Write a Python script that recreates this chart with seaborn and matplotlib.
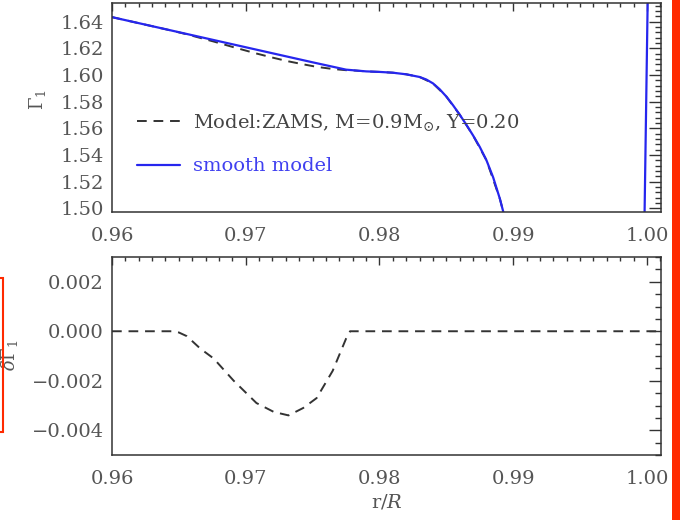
import numpy as np
import pandas as pd
import matplotlib
matplotlib.use("Agg")
import matplotlib.pyplot as plt
import seaborn as sns
from matplotlib.ticker import MultipleLocator, FuncFormatter
from matplotlib.patches import Rectangle

# ---------------- data ----------------
r_smooth = [0.9600, 0.9650, 0.9700, 0.9750, 0.9775, 0.9790, 0.9800, 0.9810,
            0.9820, 0.9830, 0.9835, 0.9840, 0.9845, 0.9850, 0.9855, 0.9860,
            0.9865, 0.9870, 0.9875, 0.9880, 0.9885, 0.9890, 0.9895]
gamma_smooth = [1.6434, 1.6321, 1.6208, 1.6095, 1.6040, 1.6027, 1.6023, 1.6017,
                1.6005, 1.5985, 1.5966, 1.5937, 1.5893, 1.5838, 1.5773, 1.5702,
                1.5626, 1.5546, 1.5460, 1.5360, 1.5232, 1.5072, 1.4880]

r_surface = [0.99982, 1.00006]
gamma_surface = [1.4950, 1.6600]

r_model = [0.9600, 0.9645, 0.9656, 0.9666, 0.9676, 0.9691, 0.9708, 0.9721,
           0.9732, 0.9743, 0.9753, 0.9765, 0.9775, 0.9778, 0.9790, 0.9800,
           0.9810, 0.9820, 0.9830, 0.9840, 0.9850, 0.9860, 0.9870, 0.9880,
           0.9890, 0.9895]
gamma_model = [1.6434, 1.6332, 1.6305, 1.6278, 1.6251, 1.6208, 1.6161, 1.6128,
               1.6102, 1.6080, 1.6061, 1.6045, 1.6036, 1.6036, 1.6027, 1.6023,
               1.6017, 1.6005, 1.5985, 1.5937, 1.5838, 1.5702, 1.5546, 1.5360,
               1.5072, 1.4880]

r_delta = [0.9600, 0.9645, 0.9650, 0.9656, 0.9666, 0.9676, 0.9691, 0.9708,
           0.9721, 0.9732, 0.9743, 0.9753, 0.9765, 0.9775, 0.9778, 1.0010]
delta_gamma = [0.0, 0.0, -0.00005, -0.0002, -0.0007, -0.0011, -0.0020, -0.0029,
               -0.00326, -0.0034, -0.0031, -0.0027, -0.0016, -0.0003, 0.0, 0.0]

x_ticks = [0.96, 0.97, 0.98, 0.99, 1.00]
label_model = r"Model:ZAMS, M=0.9M$_{\odot}$, Y=0.20"
label_smooth = "smooth model"

# ---------------- style ----------------
sns.set_style("white")
plt.rcParams['font.family'] = ['DejaVu Serif']
plt.rcParams['mathtext.fontset'] = 'dejavuserif'

FRAME = '#333333'
TXT = '#555555'
BLUE = '#2626ee'
DASH = (0, (5, 3.5))
FS = 14


def fmt(nd):
    return FuncFormatter(lambda v, p: f"{v:.{nd}f}".replace('-', '\u2212'))


W, H = 683, 520
fig = plt.figure(figsize=(W / 100, H / 100), dpi=100)
ax1 = fig.add_axes([112 / W, 1 - 212 / H, 549 / W, 209 / H])
ax2 = fig.add_axes([112 / W, 1 - 455 / H, 549 / W, 198 / H])

df_model = pd.DataFrame({'r': r_model, 'g': gamma_model})
df_smooth = pd.DataFrame({'r': r_smooth, 'g': gamma_smooth})
df_surf = pd.DataFrame({'r': r_surface, 'g': gamma_surface})
df_delta = pd.DataFrame({'r': r_delta, 'd': delta_gamma})

sns.lineplot(data=df_model, x='r', y='g', ax=ax1, color='#333333',
             linestyle=DASH, lw=1.4, sort=False, estimator=None, label=label_model)
sns.lineplot(data=df_smooth, x='r', y='g', ax=ax1, color=BLUE,
             lw=1.6, sort=False, estimator=None, label=label_smooth)
sns.lineplot(data=df_surf, x='r', y='g', ax=ax1, color=BLUE,
             lw=1.6, sort=False, estimator=None, label='_nolegend_')
sns.lineplot(data=df_delta, x='r', y='d', ax=ax2, color='#333333',
             linestyle=DASH, lw=1.4, sort=False, estimator=None, legend=False)

ax1.set_xlim(0.96, 1.00105)
ax1.set_ylim(1.4972, 1.654)
ax2.set_xlim(0.96, 1.00105)
ax2.set_ylim(-0.005, 0.003)

for ax in (ax1, ax2):
    ax.set_xticks(x_ticks)
    ax.xaxis.set_major_formatter(fmt(2))
    ax.xaxis.set_minor_locator(MultipleLocator(0.001))
    ax.tick_params(axis='both', which='both', direction='in', top=True, right=True,
                   colors=FRAME, labelcolor=TXT, labelsize=FS, width=1.0)
    ax.tick_params(axis='x', which='major', length=6, pad=11)
    ax.tick_params(axis='x', which='minor', length=3)
    ax.tick_params(axis='y', which='major', length=9, pad=6)
    ax.tick_params(axis='y', which='minor', length=4.5)
    for s in ax.spines.values():
        s.set_color(FRAME)
        s.set_linewidth(1.1)
    ax.set_xlabel('')
    ax.set_ylabel('')

ax1.yaxis.set_major_locator(MultipleLocator(0.02))
ax1.yaxis.set_minor_locator(MultipleLocator(0.004))
ax1.yaxis.set_major_formatter(fmt(2))
ax2.yaxis.set_major_locator(MultipleLocator(0.002))
ax2.yaxis.set_minor_locator(MultipleLocator(0.0005))
ax2.yaxis.set_major_formatter(fmt(3))

leg = ax1.legend(loc='upper left', bbox_to_anchor=(0.0455, 0.478), frameon=False,
                 fontsize=FS, handlelength=2.2, handletextpad=0.67,
                 labelspacing=1.25, borderpad=0, borderaxespad=0,
                 labelcolor=['#444444', '#4040f0'])

fig.text(38 / W, 1 - 100 / H, r'$\Gamma_1$', rotation=90, ha='center', va='center',
         fontsize=13, color=TXT)
fig.text(10 / W, 1 - 355 / H, r'$\delta\Gamma_1$', rotation=90, ha='center', va='center',
         fontsize=13, color=TXT)
ax2.set_xlabel(r'r/$R$', fontsize=FS, color=TXT, labelpad=3)

# red annotation marks of the reference
fig.patches.append(Rectangle((672 / W, 0), 8 / W, 1, transform=fig.transFigure,
                             facecolor='#ff2a00', edgecolor='none', zorder=10))
fig.patches.append(Rectangle((-10 / W, 1 - 432 / H), 12.5 / W, 154 / H,
                             transform=fig.transFigure, fill=False,
                             edgecolor='#ff2a00', lw=1.5, zorder=10))

fig.savefig('out.png', dpi=100)
